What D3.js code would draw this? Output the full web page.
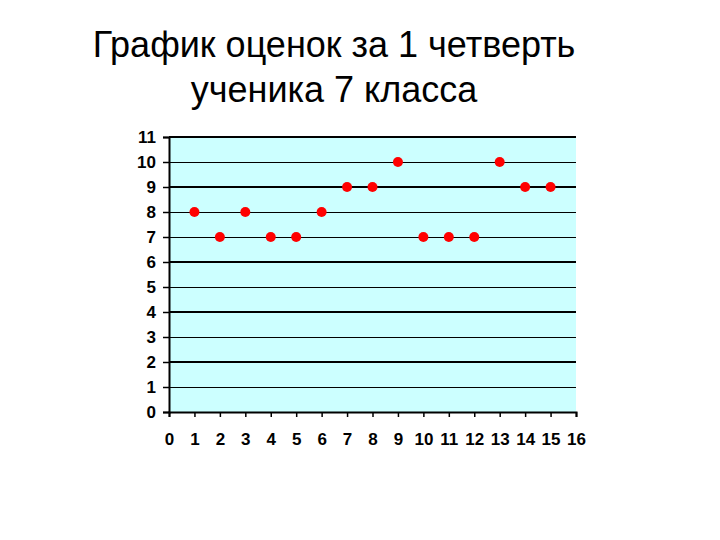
<!DOCTYPE html>
<html>
<head>
<meta charset="utf-8">
<script src="https://cdn.jsdelivr.net/npm/d3@7"></script>
<style>
  body { margin: 0; background: #fff; }
  svg text { font-family: "Liberation Sans", Arial, sans-serif; }
</style>
</head>
<body>
<script>
var titleLines = ['График оценок за 1 четверть', 'ученика 7 класса'];
var weeks = [1, 2, 3, 4, 5, 6, 7, 8, 9, 10, 11, 12, 13, 14, 15];
var grades = [8, 7, 8, 7, 7, 8, 9, 9, 10, 7, 7, 7, 10, 9, 9];
var xTicks = d3.range(0, 17);
var yTicks = d3.range(0, 12);
var thickLines = [11, 9, 6, 4, 2];

var width = 720, height = 540;
var plotLeft = 169, plotRight = 576, plotTop = 137, plotBottom = 412;

var svg = d3.select('body').append('svg')
  .attr('width', width)
  .attr('height', height);

var x = d3.scaleLinear().domain([0, 16]).range([plotLeft, plotRight]);
var y = d3.scaleLinear().domain([0, 11]).range([plotBottom, plotTop]);

// title
svg.selectAll('text.title')
  .data(titleLines)
  .enter().append('text')
  .attr('class', 'title')
  .attr('x', 334)
  .attr('y', function(d, i) { return 57 + i * 45; })
  .attr('text-anchor', 'middle')
  .style('font-size', '36px')
  .style('fill', '#000')
  .text(function(d) { return d; });

// plot background
svg.append('rect')
  .attr('x', plotLeft)
  .attr('y', plotTop)
  .attr('width', plotRight - plotLeft)
  .attr('height', plotBottom - plotTop)
  .style('fill', '#ccffff');

// gridlines
svg.selectAll('line.grid')
  .data(yTicks.filter(function(d) { return d > 0; }))
  .enter().append('line')
  .attr('class', 'grid')
  .attr('x1', plotLeft)
  .attr('x2', plotRight)
  .attr('y1', function(d) { return y(d); })
  .attr('y2', function(d) { return y(d); })
  .style('stroke', '#000')
  .style('shape-rendering', 'crispEdges')
  .style('stroke-width', function(d) { return thickLines.indexOf(d) >= 0 ? 2 : 1; });

// axes
var yAxis = svg.append('g')
  .attr('transform', 'translate(' + plotLeft + ',0)')
  .call(d3.axisLeft(y).tickValues(yTicks).tickSize(6).tickPadding(7).tickFormat(d3.format('d')));
var xAxis = svg.append('g')
  .attr('transform', 'translate(0,' + plotBottom + ')')
  .call(d3.axisBottom(x).tickValues(xTicks).tickSize(5).tickPadding(16).tickFormat(d3.format('d')));

[xAxis, yAxis].forEach(function(g) {
  g.attr('font-size', null);
  g.select('.domain').style('stroke', '#000').style('stroke-width', 2);
  g.selectAll('.tick line').style('stroke', '#000').style('stroke-width', 1.5);
  g.selectAll('.tick text')
    .style('font-family', '"Liberation Sans", Arial, sans-serif')
    .style('font-size', '17px')
    .style('font-weight', 'bold')
    .style('fill', '#000');
});

// points
svg.selectAll('circle.dot')
  .data(weeks)
  .enter().append('circle')
  .attr('class', 'dot')
  .attr('cx', function(d) { return x(d); })
  .attr('cy', function(d, i) { return y(grades[i]); })
  .attr('r', 5)
  .style('fill', '#ff0000');
</script>
</body>
</html>
